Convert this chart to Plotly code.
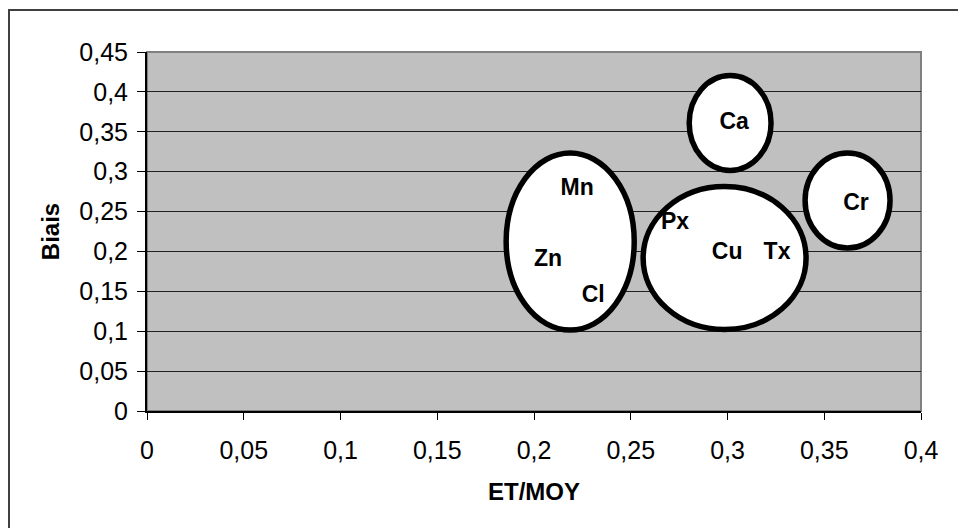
import plotly.graph_objects as go

# Element labels and their (ET/MOY, Biais) coordinates
labels = ["Ca", "Mn", "Cr", "Px", "Zn", "Cu", "Tx", "Cl"]
et_moy = [0.3034, 0.2223, 0.3664, 0.2729, 0.2073, 0.2998, 0.3256, 0.2306]
biais = [0.361, 0.2783, 0.2595, 0.2357, 0.1893, 0.198, 0.198, 0.1441]

# Grouping ellipses (bounding boxes in data units)
grp_x0 = [0.1856, 0.2564, 0.2802, 0.3401]
grp_x1 = [0.2518, 0.3406, 0.3225, 0.3840]
grp_y0 = [0.1015, 0.1022, 0.3015, 0.2043]
grp_y1 = [0.3234, 0.2814, 0.4205, 0.3234]

# Axis ticks
x_ticks = [0, 0.05, 0.1, 0.15, 0.2, 0.25, 0.3, 0.35, 0.4]
x_tick_text = ["0", "0,05", "0,1", "0,15", "0,2", "0,25", "0,3", "0,35", "0,4"]
y_ticks = [0, 0.05, 0.1, 0.15, 0.2, 0.25, 0.3, 0.35, 0.4, 0.45]
y_tick_text = ["0", "0,05", "0,1", "0,15", "0,2", "0,25", "0,3", "0,35", "0,4", "0,45"]

FONT = "Arial, 'Liberation Sans', sans-serif"

fig = go.Figure()

fig.add_trace(go.Scatter(
    x=et_moy, y=biais, mode="text", text=labels,
    textfont=dict(family=FONT, size=23, color="black", weight="bold"),
    textposition="middle center", hoverinfo="skip", showlegend=False,
))

shapes = []
for x0, x1, y0, y1 in zip(grp_x0, grp_x1, grp_y0, grp_y1):
    shapes.append(dict(
        type="circle", xref="x", yref="y", x0=x0, x1=x1, y0=y0, y1=y1,
        fillcolor="white", line=dict(color="black", width=5.5), layer="between",
    ))

# Gray frame on top/right of plot area
shapes.append(dict(
    type="rect", xref="paper", yref="paper", x0=0, x1=1, y0=0, y1=1,
    line=dict(color="#808080", width=2), fillcolor="rgba(0,0,0,0)", layer="below",
))
# Outer chart border
shapes.append(dict(
    type="rect", xref="paper", yref="paper",
    x0=(9 - 147) / 774, x1=1.2, y0=-0.6, y1=(411 - 10) / 359,
    line=dict(color="#404040", width=2), fillcolor="rgba(0,0,0,0)", layer="below",
))

fig.update_layout(
    width=958, height=528,
    margin=dict(l=147, r=37, t=52, b=117),
    paper_bgcolor="white", plot_bgcolor="#c0c0c0",
    font=dict(family=FONT, size=25, color="black"),
    shapes=shapes,
    showlegend=False,
)

fig.update_xaxes(
    range=[0, 0.4], tickvals=x_ticks, ticktext=x_tick_text,
    tickfont=dict(size=25),
    showgrid=False, zeroline=False, showline=True, linecolor="black", linewidth=2,
    ticks="outside", ticklen=7, tickcolor="black", tickwidth=1,
    ticklabelstandoff=9,
    title=dict(text="<b>ET/MOY</b>", standoff=20, font=dict(size=24)),
)
fig.update_yaxes(
    range=[0, 0.45], tickvals=y_ticks, ticktext=y_tick_text,
    tickfont=dict(size=25),
    showgrid=True, gridcolor="#202020", gridwidth=1,
    zeroline=False, showline=True, linecolor="black", linewidth=2,
    ticks="outside", ticklen=8, tickcolor="black", tickwidth=1,
    ticklabelstandoff=4,
    title=dict(text="<b>Biais</b>", standoff=13, font=dict(size=24)),
)

fig.write_html("out.html")
